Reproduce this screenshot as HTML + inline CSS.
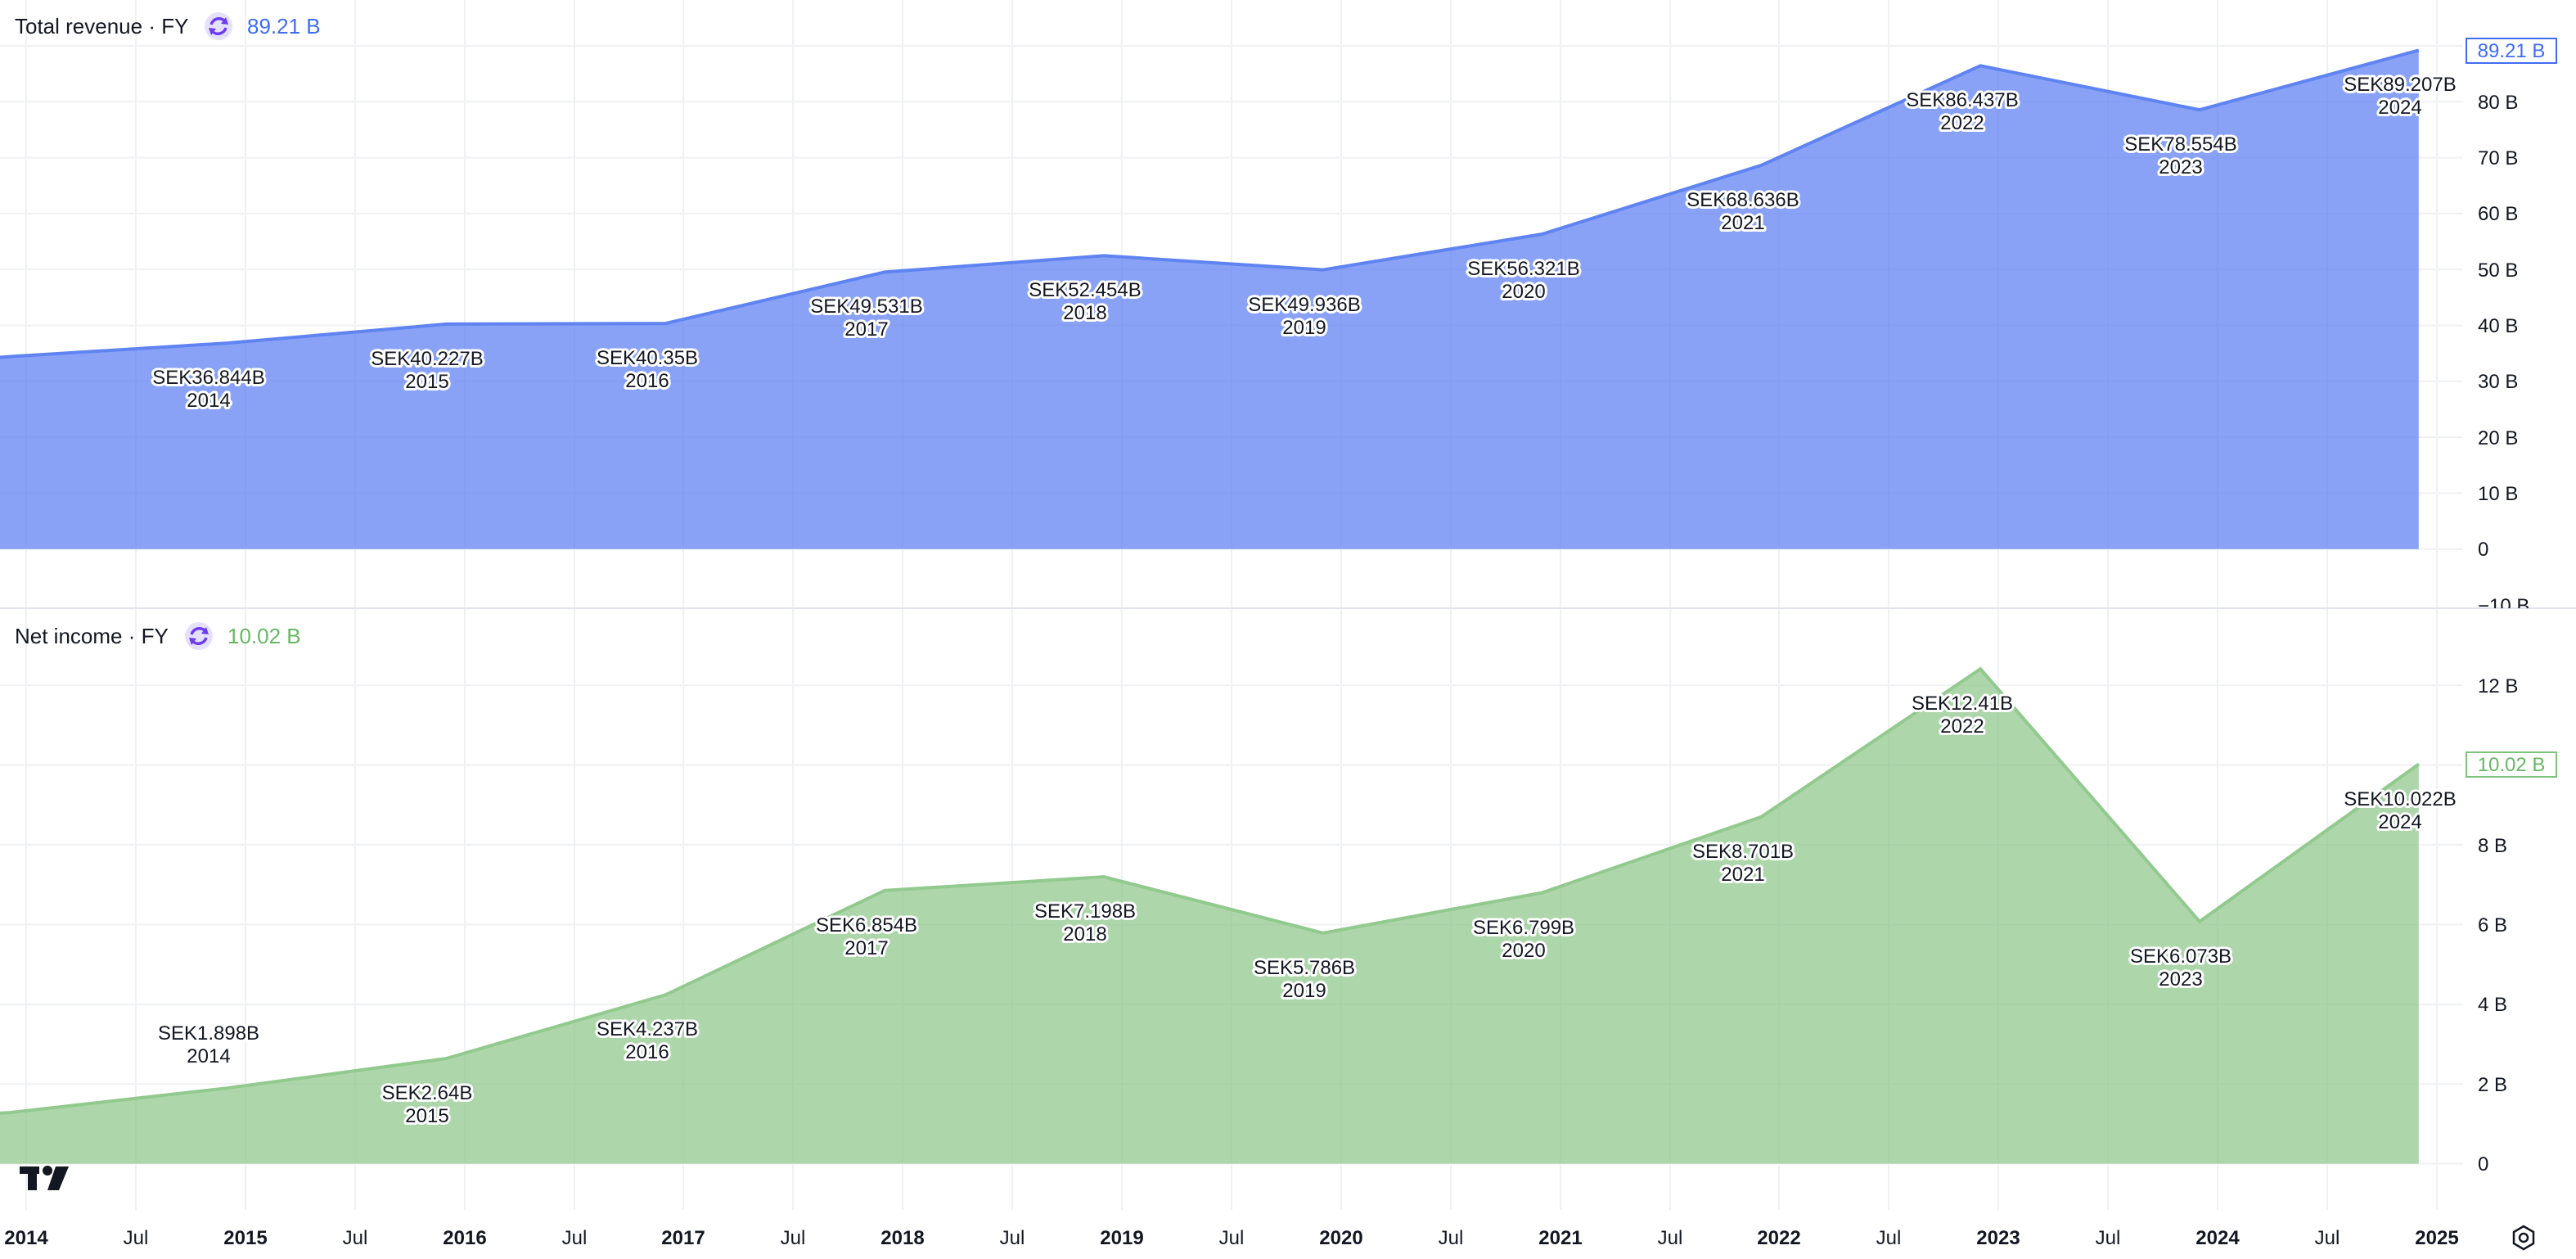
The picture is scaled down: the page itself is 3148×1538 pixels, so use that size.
<!DOCTYPE html>
<html><head><meta charset="utf-8"><style>
html,body{margin:0;padding:0;background:#fff;}
svg{display:block;font-family:"Liberation Sans",sans-serif;}
.g{stroke:#f0f1f3;stroke-width:2;}
.ax{font-size:24px;fill:#131722;}
.lb{font-size:24px;fill:#131722;text-anchor:middle;stroke:#fff;stroke-width:6px;paint-order:stroke;stroke-linejoin:round;}
.yr{font-size:24px;fill:#131722;text-anchor:middle;font-weight:bold;}
.jl{font-size:24px;fill:#131722;text-anchor:middle;}
</style></head><body>
<svg width="3148" height="1538" viewBox="0 0 3148 1538" xmlns="http://www.w3.org/2000/svg">
<defs><clipPath id="top"><rect x="0" y="0" width="3148" height="743"/></clipPath></defs>
<!-- vertical grid -->
<g class="g">
<line x1="32" y1="0" x2="32" y2="1478"/><line x1="166" y1="0" x2="166" y2="1478"/>
<line x1="300" y1="0" x2="300" y2="1478"/><line x1="434" y1="0" x2="434" y2="1478"/>
<line x1="568" y1="0" x2="568" y2="1478"/><line x1="702" y1="0" x2="702" y2="1478"/>
<line x1="835" y1="0" x2="835" y2="1478"/><line x1="969" y1="0" x2="969" y2="1478"/>
<line x1="1103" y1="0" x2="1103" y2="1478"/><line x1="1237" y1="0" x2="1237" y2="1478"/>
<line x1="1371" y1="0" x2="1371" y2="1478"/><line x1="1505" y1="0" x2="1505" y2="1478"/>
<line x1="1639" y1="0" x2="1639" y2="1478"/><line x1="1773" y1="0" x2="1773" y2="1478"/>
<line x1="1907" y1="0" x2="1907" y2="1478"/><line x1="2041" y1="0" x2="2041" y2="1478"/>
<line x1="2174" y1="0" x2="2174" y2="1478"/><line x1="2308" y1="0" x2="2308" y2="1478"/>
<line x1="2442" y1="0" x2="2442" y2="1478"/><line x1="2576" y1="0" x2="2576" y2="1478"/>
<line x1="2710" y1="0" x2="2710" y2="1478"/><line x1="2844" y1="0" x2="2844" y2="1478"/>
<line x1="2978" y1="0" x2="2978" y2="1478"/>
</g>
<!-- horizontal grid top -->
<g class="g">
<line x1="0" y1="56" x2="3010" y2="56"/><line x1="0" y1="124.3" x2="3010" y2="124.3"/>
<line x1="0" y1="192.6" x2="3010" y2="192.6"/><line x1="0" y1="260.9" x2="3010" y2="260.9"/>
<line x1="0" y1="329.2" x2="3010" y2="329.2"/><line x1="0" y1="397.5" x2="3010" y2="397.5"/>
<line x1="0" y1="465.8" x2="3010" y2="465.8"/><line x1="0" y1="534.1" x2="3010" y2="534.1"/>
<line x1="0" y1="602.4" x2="3010" y2="602.4"/><line x1="0" y1="670.7" x2="3010" y2="670.7"/>
<line x1="0" y1="837.2" x2="3010" y2="837.2"/><line x1="0" y1="934.6" x2="3010" y2="934.6"/>
<line x1="0" y1="1032" x2="3010" y2="1032"/><line x1="0" y1="1129.4" x2="3010" y2="1129.4"/>
<line x1="0" y1="1226.8" x2="3010" y2="1226.8"/><line x1="0" y1="1324.2" x2="3010" y2="1324.2"/>
<line x1="0" y1="1421.6" x2="3010" y2="1421.6"/>
</g>
<!-- revenue -->
<polygon fill="#5b7ef2" fill-opacity="0.72" points="0,436.5 10,435.7 277.8,419.1 545.6,395.9 813.4,395.1 1081.2,332.4 1349,312.4 1616.8,329.6 1884.6,286 2152.4,201.9 2420.2,80.3 2688,134.2 2955.8,61.4 2955.8,670.7 0,670.7"/>
<polyline fill="none" stroke="#5f84f2" stroke-width="4" points="0,436.5 10,435.7 277.8,419.1 545.6,395.9 813.4,395.1 1081.2,332.4 1349,312.4 1616.8,329.6 1884.6,286 2152.4,201.9 2420.2,80.3 2688,134.2 2955.8,61.4"/>
<!-- net income -->
<polygon fill="#8cc488" fill-opacity="0.7" points="0,1359.8 10,1359.3 277.8,1329.2 545.6,1293 813.4,1215.3 1081.2,1087.8 1349,1071.1 1616.8,1139.8 1884.6,1090.5 2152.4,997.9 2420.2,817.2 2688,1125.8 2955.8,933.5 2955.8,1421.6 0,1421.6"/>
<polyline fill="none" stroke="#92c98e" stroke-width="4" points="0,1359.8 10,1359.3 277.8,1329.2 545.6,1293 813.4,1215.3 1081.2,1087.8 1349,1071.1 1616.8,1139.8 1884.6,1090.5 2152.4,997.9 2420.2,817.2 2688,1125.8 2955.8,933.5"/>
<!-- separator -->
<line x1="0" y1="743" x2="3148" y2="743" stroke="#e0e3eb" stroke-width="2"/>
<!-- revenue labels -->
<g class="lb">
<text x="255" y="469">SEK36.844B</text><text x="255" y="497">2014</text>
<text x="522" y="446">SEK40.227B</text><text x="522" y="474">2015</text>
<text x="791" y="445">SEK40.35B</text><text x="791" y="473">2016</text>
<text x="1059" y="382">SEK49.531B</text><text x="1059" y="410">2017</text>
<text x="1326" y="362">SEK52.454B</text><text x="1326" y="390">2018</text>
<text x="1594" y="380">SEK49.936B</text><text x="1594" y="408">2019</text>
<text x="1862" y="336">SEK56.321B</text><text x="1862" y="364">2020</text>
<text x="2130" y="252">SEK68.636B</text><text x="2130" y="280">2021</text>
<text x="2398" y="130">SEK86.437B</text><text x="2398" y="158">2022</text>
<text x="2665" y="184">SEK78.554B</text><text x="2665" y="212">2023</text>
<text x="2933" y="111">SEK89.207B</text><text x="2933" y="139">2024</text>
</g>
<!-- NI labels -->
<g class="lb">
<text x="255" y="1270">SEK1.898B</text><text x="255" y="1298">2014</text>
<text x="522" y="1343">SEK2.64B</text><text x="522" y="1371">2015</text>
<text x="791" y="1265">SEK4.237B</text><text x="791" y="1293">2016</text>
<text x="1059" y="1138">SEK6.854B</text><text x="1059" y="1166">2017</text>
<text x="1326" y="1121">SEK7.198B</text><text x="1326" y="1149">2018</text>
<text x="1594" y="1190">SEK5.786B</text><text x="1594" y="1218">2019</text>
<text x="1862" y="1141">SEK6.799B</text><text x="1862" y="1169">2020</text>
<text x="2130" y="1048">SEK8.701B</text><text x="2130" y="1076">2021</text>
<text x="2398" y="867">SEK12.41B</text><text x="2398" y="895">2022</text>
<text x="2665" y="1176">SEK6.073B</text><text x="2665" y="1204">2023</text>
<text x="2933" y="984">SEK10.022B</text><text x="2933" y="1012">2024</text>
</g>
<!-- y axis top -->
<g class="ax" clip-path="url(#top)">
<text x="3028" y="133">80 B</text><text x="3028" y="201">70 B</text>
<text x="3028" y="269">60 B</text><text x="3028" y="338">50 B</text>
<text x="3028" y="406">40 B</text><text x="3028" y="474">30 B</text>
<text x="3028" y="543">20 B</text><text x="3028" y="611">10 B</text>
<text x="3028" y="679">0</text><text x="3028" y="748">−10 B</text>
</g>
<rect x="3014" y="47" width="110" height="30" fill="#fff" stroke="#3f6cf4" stroke-width="2"/>
<text x="3069" y="70" font-size="24" fill="#3f6cf4" text-anchor="middle">89.21 B</text>
<!-- y axis bottom -->
<g class="ax">
<text x="3028" y="846">12 B</text><text x="3028" y="1041">8 B</text>
<text x="3028" y="1138">6 B</text><text x="3028" y="1235">4 B</text>
<text x="3028" y="1333">2 B</text><text x="3028" y="1430">0</text>
</g>
<rect x="3014" y="919" width="110" height="30" fill="#fff" stroke="#7cc47a" stroke-width="2"/>
<text x="3069" y="942" font-size="24" fill="#66b864" text-anchor="middle">10.02 B</text>
<!-- headers -->
<text x="18" y="41" font-size="26" fill="#131722">Total revenue · FY</text>
<circle cx="267" cy="32" r="17" fill="#e6e0ff"/>
<g fill="none" stroke="#6a3df0" stroke-width="3.5"><path d="M258,30 A10,10 0 0 1 275,26"/><path d="M276,34 A10,10 0 0 1 259,38"/></g>
<polygon points="276,21 279,30 270,29" fill="#6a3df0"/><polygon points="258,43 255,34 264,35" fill="#6a3df0"/>
<text x="302" y="41" font-size="26" fill="#3f6cf4">89.21 B</text>
<text x="18" y="786" font-size="26" fill="#131722">Net income · FY</text>
<circle cx="243" cy="777" r="17" fill="#e6e0ff"/>
<g fill="none" stroke="#6a3df0" stroke-width="3.5"><path d="M234,775 A10,10 0 0 1 251,771"/><path d="M252,779 A10,10 0 0 1 235,783"/></g>
<polygon points="252,766 255,775 246,774" fill="#6a3df0"/><polygon points="234,788 231,779 240,780" fill="#6a3df0"/>
<text x="278" y="786" font-size="26" fill="#66b864">10.02 B</text>
<!-- logo -->
<g fill="#131722"><rect x="24" y="1425" width="24" height="9"/><rect x="34" y="1425" width="11" height="29"/><circle cx="58" cy="1430" r="6"/><polygon points="68,1425 84,1425 72,1454 58,1454"/></g>
<!-- x axis -->
<g>
<text class="yr" x="32" y="1520">2014</text><text class="jl" x="166" y="1520">Jul</text>
<text class="yr" x="300" y="1520">2015</text><text class="jl" x="434" y="1520">Jul</text>
<text class="yr" x="568" y="1520">2016</text><text class="jl" x="702" y="1520">Jul</text>
<text class="yr" x="835" y="1520">2017</text><text class="jl" x="969" y="1520">Jul</text>
<text class="yr" x="1103" y="1520">2018</text><text class="jl" x="1237" y="1520">Jul</text>
<text class="yr" x="1371" y="1520">2019</text><text class="jl" x="1505" y="1520">Jul</text>
<text class="yr" x="1639" y="1520">2020</text><text class="jl" x="1773" y="1520">Jul</text>
<text class="yr" x="1907" y="1520">2021</text><text class="jl" x="2041" y="1520">Jul</text>
<text class="yr" x="2174" y="1520">2022</text><text class="jl" x="2308" y="1520">Jul</text>
<text class="yr" x="2442" y="1520">2023</text><text class="jl" x="2576" y="1520">Jul</text>
<text class="yr" x="2710" y="1520">2024</text><text class="jl" x="2844" y="1520">Jul</text>
<text class="yr" x="2978" y="1520">2025</text>
</g>
<!-- gear -->
<g fill="none" stroke="#131722" stroke-width="2.5"><polygon points="3084,1498 3096,1505 3096,1519 3084,1526 3072,1519 3072,1505"/><circle cx="3084" cy="1512" r="5"/></g>
</svg>
</body></html>
